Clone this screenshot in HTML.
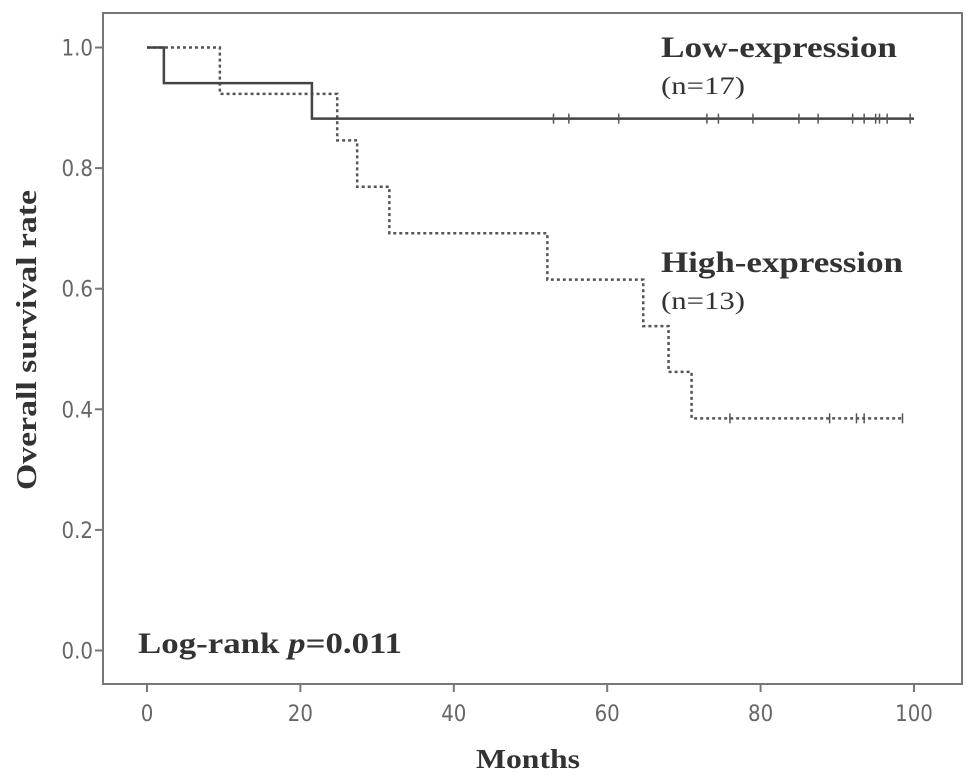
<!DOCTYPE html>
<html><head><meta charset="utf-8"><style>
body{margin:0;background:#fff}
svg{display:block}
.tk{font-family:"Liberation Sans Narrow","DejaVu Sans Condensed","Liberation Sans",sans-serif;font-size:22px;fill:#666}
.lb{font-family:"Liberation Serif",serif;font-weight:bold;fill:#333}
</style></head><body>
<svg id="chart" width="969" height="782" viewBox="0 0 969 782" xmlns="http://www.w3.org/2000/svg">
<rect x="103" y="13" width="859" height="671" fill="none" stroke="#777" stroke-width="2"/>
<g id="axes"></g>
<g id="series"></g>
<text class="lb" font-size="28" transform="translate(36,340) rotate(-90)" text-anchor="middle" textLength="300" lengthAdjust="spacingAndGlyphs">Overall survival rate</text>
<text class="lb" font-size="27" x="528" y="768" text-anchor="middle" textLength="104" lengthAdjust="spacingAndGlyphs">Months</text>
<text class="lb" font-size="30" x="661" y="57" textLength="236" lengthAdjust="spacingAndGlyphs">Low-expression</text>
<text class="lb" font-size="25" x="661" y="94" style="font-weight:normal" textLength="84" lengthAdjust="spacingAndGlyphs">(n=17)</text>
<text class="lb" font-size="30" x="661" y="272" textLength="242" lengthAdjust="spacingAndGlyphs">High-expression</text>
<text class="lb" font-size="25" x="661" y="309" style="font-weight:normal" textLength="84" lengthAdjust="spacingAndGlyphs">(n=13)</text>
<text class="lb" font-size="30" x="138" y="653" textLength="264" lengthAdjust="spacingAndGlyphs">Log-rank <tspan font-style="italic">p</tspan>=0.011</text>
</svg>
<script>
const xTicks=[0,20,40,60,80,100];
const yTicks=[0.0,0.2,0.4,0.6,0.8,1.0];
const yTickLabels=["0.0","0.2","0.4","0.6","0.8","1.0"];
const lowTimes=[0,2.2,21.5,100];
const lowSurv=[1.0,0.941,0.882,0.882];
const lowCensor=[53,55,61.5,73,74.5,79,85,87.5,92,93.5,95,95.5,96.5,99.5];
const highTimes=[0,9.5,24.8,27.4,31.6,52.2,64.7,68,71,98.5];
const highSurv=[1.0,0.923,0.846,0.769,0.692,0.615,0.538,0.462,0.385,0.385];
const highCensor=[76,89,92.5,93.5,98.5];
const NS="http://www.w3.org/2000/svg";
const X=m=>147+m*7.67, Y=v=>650.5-v*603;
function mk(t,a,p){const e=document.createElementNS(NS,t);for(const k in a)e.setAttribute(k,a[k]);p.appendChild(e);return e;}
const ax=document.getElementById('axes'), se=document.getElementById('series');
xTicks.forEach(t=>{
 const l=mk('line',{x1:X(t),x2:X(t),y1:684,y2:692,stroke:'#777','stroke-width':2},ax);
 
 
 const tx=mk('text',{x:X(t),y:721,'text-anchor':'middle',class:'tk'},ax);tx.textContent=t;
 
 
});
yTicks.forEach((t,i)=>{
 const l=mk('line',{x1:95,x2:103,y1:Y(t),y2:Y(t),stroke:'#777','stroke-width':2},ax);
 
 
 const tx=mk('text',{x:93,y:Y(t)+8,'text-anchor':'end',class:'tk'},ax);tx.textContent=yTickLabels[i];
 
 
});
function step(times,surv){let d=`M${X(times[0])},${Y(surv[0])}`;for(let i=1;i<times.length;i++){d+=` H${X(times[i])} V${Y(surv[i])}`;}return d;}
function survAt(times,surv,t){let v=surv[0];for(let i=0;i<times.length;i++)if(times[i]<=t)v=surv[i];return v;}
const hp=mk('path',{d:step(highTimes,highSurv),fill:'none',stroke:'#555','stroke-width':2.5,'stroke-dasharray':'3,3'},se);


const lp=mk('path',{d:step(lowTimes,lowSurv),fill:'none',stroke:'#444','stroke-width':2.5},se);


lowCensor.forEach(t=>{const y=Y(survAt(lowTimes,lowSurv,t));
 const c=mk('line',{x1:X(t),x2:X(t),y1:y-5,y2:y+5,stroke:'#555','stroke-width':1.5},se);
 
 });
highCensor.forEach(t=>{const y=Y(survAt(highTimes,highSurv,t));
 const c=mk('line',{x1:X(t),x2:X(t),y1:y-5,y2:y+5,stroke:'#555','stroke-width':1.5},se);
 
 });
</script>
</body></html>
